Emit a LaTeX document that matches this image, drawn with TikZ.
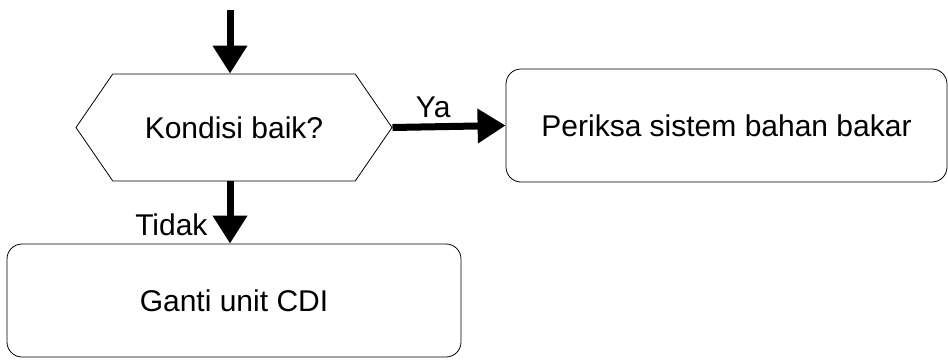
\documentclass[tikz,border=0pt]{standalone}
\usepackage{fontspec}
\setmainfont{Liberation Sans}
\usetikzlibrary{arrows.meta,shapes.symbols,positioning,calc}
\tikzstyle{decision}=[draw, line width=0.8pt, shape=signal, signal to=east and west, signal pointer angle=111, minimum width=316pt, minimum height=107pt, inner sep=0pt, font=\fontsize{30}{36}\selectfont]
\tikzstyle{process}=[draw, line width=0.8pt, rounded corners=15pt, minimum height=113pt, font=\fontsize{30}{36}\selectfont]
\tikzstyle{flow}=[line width=7pt, -{Triangle[length=28pt,width=33pt]}]
\tikzstyle{lbl}=[font=\fontsize{30}{36}\selectfont, inner sep=2pt]

\begin{document}
\begin{tikzpicture}[x=1pt,y=-1pt]
        \useasboundingbox (0,0) rectangle (948,359);
        \node[decision] (cek) at (234,127.5) {Kondisi baik?};
        \node[process, minimum width=441pt] (bbm) at (726.5,125.5) {Periksa sistem bahan bakar};
        \node[process, minimum width=454pt] (cdi) at (234,300.5) {Ganti unit CDI};
        \coordinate (masuk) at (230,10);
        % alur
        \draw[flow] (masuk) -- (masuk |- cek.north);
        \draw[flow] (cek.east) -- node[lbl, pos=0.36, above=3pt] (ya) {Ya} (bbm.west);
        \draw[flow] (cek.south -| masuk) -- node[lbl, pos=0.7, left=17pt] (tidak) {Tidak} (cdi.north -| masuk);
      \end{tikzpicture}
\end{document}
